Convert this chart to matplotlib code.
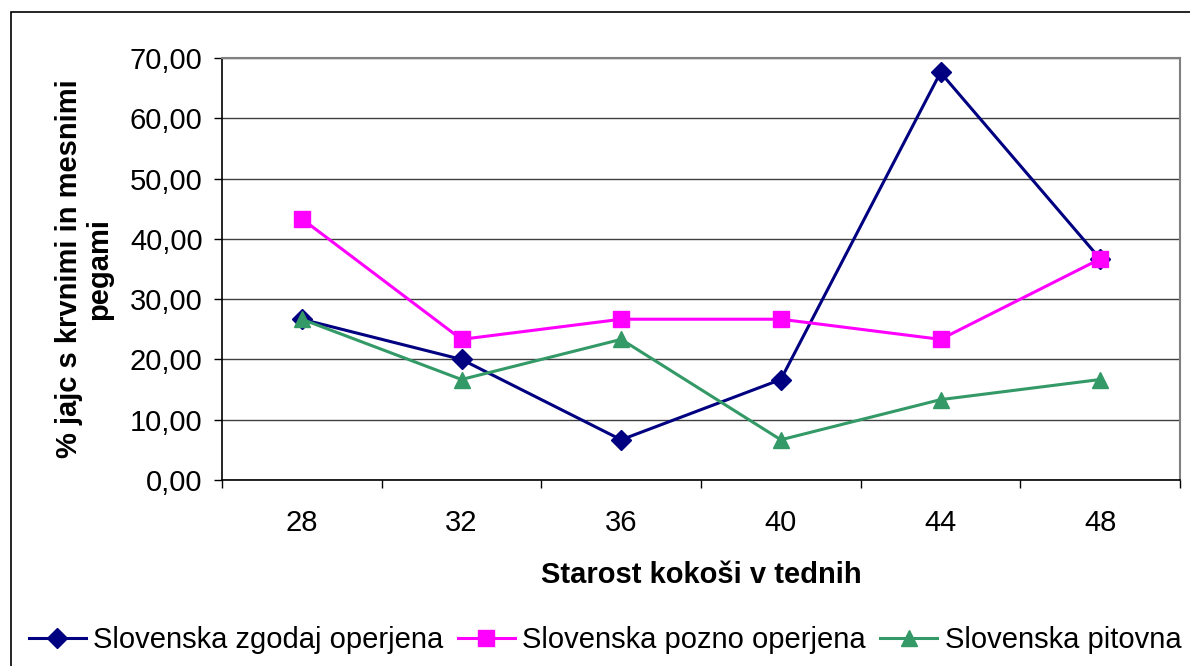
import numpy as np
import matplotlib
matplotlib.use("Agg")
import matplotlib.pyplot as plt
from matplotlib.patches import Rectangle

plt.rcParams["font.family"] = ["Liberation Sans", "DejaVu Sans"]

ages = ["28", "32", "36", "40", "44", "48"]
zgodaj = [26.67, 20.00, 6.67, 16.67, 67.60, 36.67]
pozno = [43.33, 23.33, 26.67, 26.67, 23.33, 36.67]
pitovna = [26.67, 16.67, 23.33, 6.67, 13.33, 16.67]
names = ["Slovenska zgodaj operjena", "Slovenska pozno operjena", "Slovenska pitovna"]
y_ticks = [0, 10, 20, 30, 40, 50, 60, 70]

FS = 21
fig = plt.figure(figsize=(11.9, 6.66), dpi=100)
# outer chart frame
fig.patches.append(Rectangle((11 / 1190, -0.1), 1.2, 1.1 - 12 / 666, transform=fig.transFigure,
                             fill=False, edgecolor="black", lw=1.2))
ax = fig.add_axes([222 / 1190, 1 - 480 / 666, (1180 - 222) / 1190, (480 - 58) / 666])

x = np.arange(len(ages)) + 0.5
ax.plot(x, zgodaj, color="#000080", lw=2.2, marker="D", ms=10, label=names[0])
ax.plot(x, pozno, color="#FF00FF", lw=2.2, marker="s", ms=11.5, label=names[1])
ax.plot(x, pitovna, color="#339966", lw=2.2, marker="^", ms=12, label=names[2])

ax.set_xlim(0, len(ages))
ax.set_ylim(0, 70)
ax.set_yticks(y_ticks)
ax.set_yticklabels([f"{v:.2f}".replace(".", ",") for v in y_ticks], fontsize=FS)
ax.set_xticks(np.arange(len(ages) + 1))
ax.set_xticklabels([])
ax.set_xticks(x, minor=True)
ax.set_xticklabels(ages, minor=True, fontsize=FS)
ax.tick_params(axis="x", which="minor", length=0, pad=21)
ax.tick_params(axis="x", which="major", length=6, width=1, direction="out")
ax.tick_params(axis="y", length=6, width=1, direction="out", pad=8)
ax.yaxis.grid(True, color="#404040", lw=1)
ax.set_axisbelow(True)
for s in ["top", "right"]:
    ax.spines[s].set_color("#808080")
    ax.spines[s].set_linewidth(1.5)
for s in ["left", "bottom"]:
    ax.spines[s].set_color("black")
    ax.spines[s].set_linewidth(1.2)

ax.set_xlabel("Starost kokoši v tednih", fontsize=FS, fontweight="bold", labelpad=17)
ax.set_ylabel("% jajc s krvnimi in mesnimi\npegami", fontsize=FS, fontweight="bold", labelpad=12,
              linespacing=1.1)

fig.legend(loc="center left", bbox_to_anchor=(29 / 1190, 1 - 640 / 666), ncol=3, fontsize=FS,
           frameon=False, handlelength=1.95, handletextpad=0.25, columnspacing=0.5,
           borderaxespad=0.0, borderpad=0.0)

fig.savefig("out.png", dpi=100)
